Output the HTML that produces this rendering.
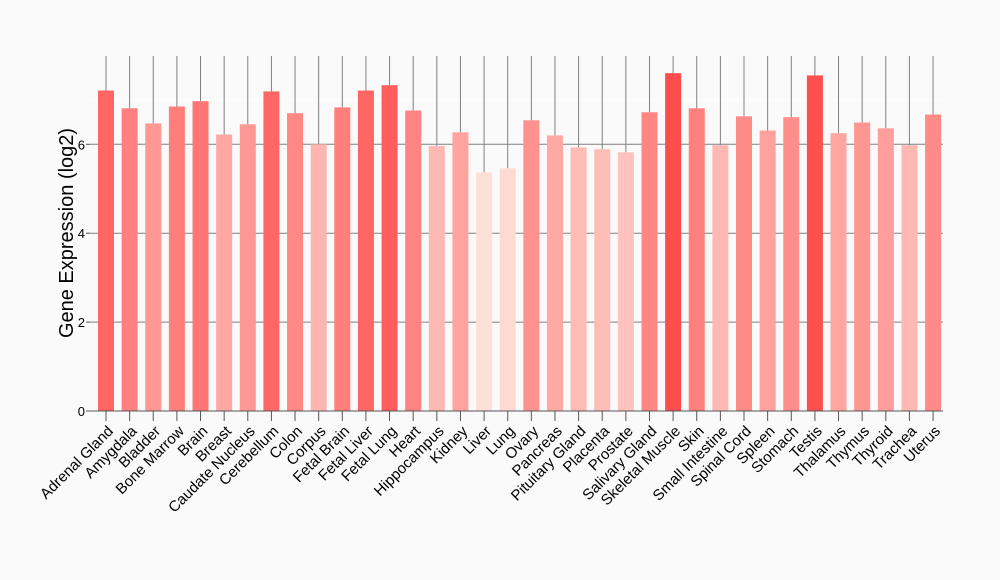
<!DOCTYPE html>
<html><head><meta charset="utf-8"><style>
html,body{margin:0;padding:0;background:#fafafa;}
svg{display:block;font-family:"Liberation Sans",Arial,sans-serif;}
</style></head><body>
<svg id="c" width="1000" height="580" xmlns="http://www.w3.org/2000/svg">
<rect width="1000" height="580" fill="#fafafa"/>
</svg>
<script>
(function(){
var names=["Adrenal Gland","Amygdala","Bladder","Bone Marrow","Brain","Breast","Caudate Nucleus","Cerebellum","Colon","Corpus","Fetal Brain","Fetal Liver","Fetal Lung","Heart","Hippocampus","Kidney","Liver","Lung","Ovary","Pancreas","Pituitary Gland","Placenta","Prostate","Salivary Gland","Skeletal Muscle","Skin","Small Intestine","Spinal Cord","Spleen","Stomach","Testis","Thalamus","Thymus","Thyroid","Trachea","Uterus"];
var vals=[7.21,6.81,6.47,6.85,6.97,6.22,6.45,7.19,6.70,6.0,6.83,7.21,7.33,6.76,5.96,6.27,5.37,5.46,6.54,6.20,5.93,5.89,5.82,6.72,7.6,6.81,5.98,6.63,6.31,6.61,7.55,6.25,6.49,6.36,5.98,6.67];
var s='';
var y0=411,k=44.45,x0=90,x1=943,sp=23.63,c0=106,bw=16;
s+='<line x1="'+x0+'" y1="100" x2="'+x1+'" y2="100" stroke="#ffffff" stroke-width="1"/>';
[2,4,6].forEach(function(v){var y=y0-v*k;s+='<line x1="'+x0+'" y1="'+y+'" x2="'+x1+'" y2="'+y+'" stroke="#808080" stroke-width="1"/>';});
for(var i=0;i<36;i++){
 var cx=c0+i*sp,v=vals[i],bt=y0-v*k;
 var t=(v-5.37)/(7.6-5.37);
 var g=Math.round(224-t*(224-76)),b=Math.round(216-t*(216-76));
 s+='<line x1="'+cx+'" y1="56" x2="'+cx+'" y2="'+bt+'" stroke="#808080" stroke-width="1"/>';
 s+='<rect x="'+(cx-bw/2)+'" y="'+bt+'" width="'+bw+'" height="'+(y0-bt)+'" fill="rgb(255,'+g+','+b+')"/>';
 s+='<line x1="'+cx+'" y1="'+y0+'" x2="'+cx+'" y2="421" stroke="#555" stroke-width="1"/>';
 var lx=cx+8,ly=432;
 s+='<text x="'+lx+'" y="'+ly+'" font-size="15" text-anchor="end" transform="rotate(-45 '+lx+' '+ly+')" fill="#000">'+names[i]+'</text>';
}
s+='<line x1="'+x0+'" y1="'+y0+'" x2="'+x1+'" y2="'+y0+'" stroke="#555" stroke-width="1"/>';
[0,2,4,6].forEach(function(v){var y=y0-v*k;s+='<line x1="86" y1="'+y+'" x2="'+x0+'" y2="'+y+'" stroke="#555"/><text x="85" y="'+(y+5)+'" font-size="13" text-anchor="end">'+v+'</text>';});
s+='<text x="73" y="233" font-size="20" text-anchor="middle" transform="rotate(-90 73 233)">Gene Expression (log2)</text>';
document.getElementById('c').insertAdjacentHTML('beforeend',s);
})();
</script>
</body></html>
